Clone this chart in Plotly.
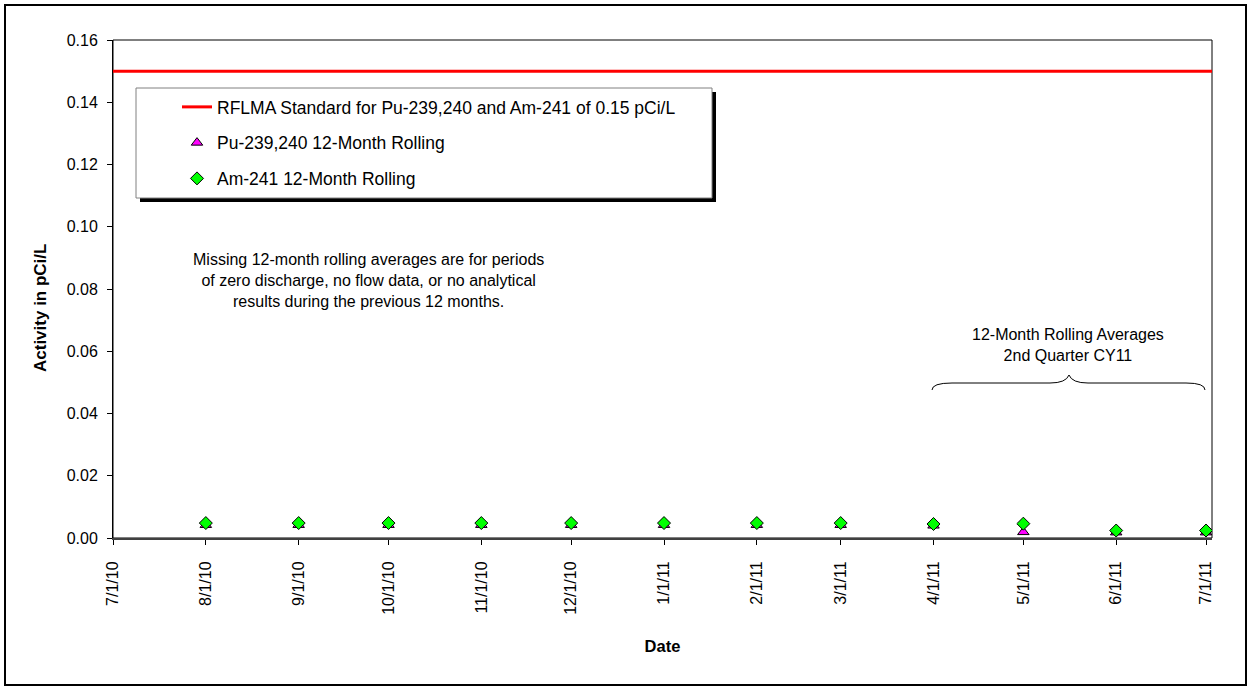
import plotly.graph_objects as go

# Datos
fechas = ["2010-08-01", "2010-09-01", "2010-10-01", "2010-11-01", "2010-12-01", "2011-01-01",
          "2011-02-01", "2011-03-01", "2011-04-01", "2011-05-01", "2011-06-01", "2011-07-01"]
pu_rolling = [0.0042, 0.0042, 0.0042, 0.0042, 0.0042, 0.0042,
              0.0042, 0.0042, 0.0040, 0.0019, 0.0018, 0.0018]
am_rolling = [0.0048, 0.0048, 0.0048, 0.0048, 0.0048, 0.0048,
              0.0048, 0.0048, 0.0045, 0.0046, 0.0024, 0.0024]
estandar = 0.15
rango_x = ["2010-07-01", "2011-07-03"]
ticks_x = ["2010-07-01", "2010-08-01", "2010-09-01", "2010-10-01", "2010-11-01", "2010-12-01",
           "2011-01-01", "2011-02-01", "2011-03-01", "2011-04-01", "2011-05-01", "2011-06-01",
           "2011-07-01"]
ticks_x_txt = ["7/1/10", "8/1/10", "9/1/10", "10/1/10", "11/1/10", "12/1/10", "1/1/11",
               "2/1/11", "3/1/11", "4/1/11", "5/1/11", "6/1/11", "7/1/11"]

FUENTE = "Liberation Sans, Arial, sans-serif"

# Geometría del área de trazado (px)
L, R, T, B = 113, 1212, 40, 538
W, H = 1252, 690


def px(x):
    return (x - L) / (R - L)


def py(y):
    return (B - y) / (B - T)


fig = go.Figure()

fig.add_trace(go.Scatter(
    x=rango_x, y=[estandar, estandar], mode="lines",
    name="RFLMA Standard for Pu-239,240 and Am-241 of 0.15 pCi/L",
    line=dict(color="#FF0000", width=3), legendgroup="a",
))
fig.add_trace(go.Scatter(
    x=fechas, y=pu_rolling, mode="markers", name="Pu-239,240 12-Month Rolling",
    marker=dict(symbol="triangle-up", size=10, color="#FF00FF", line=dict(color="black", width=1)),
    legendgroup="b",
))
fig.add_trace(go.Scatter(
    x=fechas, y=am_rolling, mode="markers", name="Am-241 12-Month Rolling",
    marker=dict(symbol="diamond", size=10, color="#00FF00", line=dict(color="black", width=1)),
    legendgroup="c",
))

# Llave sobre el 2º trimestre
llave = [(932, 390), (932, 383), (952, 383), (1050, 383), (1066, 383), (1069, 375),
         (1072, 383), (1088, 383), (1186, 383), (1205, 383), (1205, 390)]
p = [(px(a), py(b)) for a, b in llave]
camino = (f"M {p[0][0]},{p[0][1]} Q {p[1][0]},{p[1][1]} {p[2][0]},{p[2][1]} "
          f"L {p[3][0]},{p[3][1]} Q {p[4][0]},{p[4][1]} {p[5][0]},{p[5][1]} "
          f"Q {p[6][0]},{p[6][1]} {p[7][0]},{p[7][1]} L {p[8][0]},{p[8][1]} "
          f"Q {p[9][0]},{p[9][1]} {p[10][0]},{p[10][1]}")

shapes = [
    # marco exterior
    dict(type="rect", xref="paper", yref="paper", x0=px(5), x1=px(1246), y0=py(685), y1=py(5),
         line=dict(color="black", width=2), layer="below"),
    # marco del área de trazado
    dict(type="rect", xref="paper", yref="paper", x0=0, x1=1, y0=0, y1=1,
         line=dict(color="black", width=1), layer="below"),
    # sombra y caja de la leyenda
    dict(type="rect", xref="paper", yref="paper", x0=px(140), x1=px(716), y0=py(202), y1=py(92),
         line=dict(width=0), fillcolor="black", layer="above"),
    dict(type="rect", xref="paper", yref="paper", x0=px(136), x1=px(712), y0=py(198), y1=py(88),
         line=dict(color="#808080", width=1), fillcolor="white", layer="above"),
    dict(type="path", xref="paper", yref="paper", path=camino, line=dict(color="black", width=1)),
]

fig.update_layout(
    width=W, height=H,
    margin=dict(l=L, r=W - R, t=T, b=H - B),
    plot_bgcolor="white", paper_bgcolor="white",
    font=dict(family=FUENTE, size=16, color="black"),
    showlegend=True,
    legend=dict(
        x=px(177), y=py(89), xanchor="left", yanchor="top",
        bgcolor="rgba(0,0,0,0)", borderwidth=0,
        traceorder="grouped", tracegroupgap=10,
        font=dict(family=FUENTE, size=17.5),
    ),
    shapes=shapes,
    annotations=[
        dict(xref="paper", yref="paper", x=px(368), y=py(280), showarrow=False,
             xanchor="center", yanchor="middle",
             text="Missing 12-month rolling averages are for periods<br>"
                  "of zero discharge, no flow data, or no analytical<br>"
                  "results during the previous 12 months.",
             font=dict(family=FUENTE, size=16), align="center"),
        dict(xref="paper", yref="paper", x=px(1068), y=py(345), showarrow=False,
             xanchor="center", yanchor="middle",
             text="12-Month Rolling Averages<br>2nd Quarter CY11",
             font=dict(family=FUENTE, size=16), align="center"),
        # título del eje Y
        dict(xref="paper", yref="paper", x=px(40), y=py(308), showarrow=False,
             xanchor="center", yanchor="middle", textangle=-90,
             text="<b>Activity in pCi/L</b>", font=dict(family=FUENTE, size=17)),
    ],
)

fig.update_xaxes(
    type="date", range=rango_x,
    tickmode="array", tickvals=ticks_x, ticktext=ticks_x_txt, tickangle=-90,
    ticks="outside", ticklen=5, tickcolor="black", ticklabelstandoff=10,
    showline=True, linecolor="#404040", linewidth=2,
    showgrid=False, zeroline=False,
    title=dict(text="<b>Date</b>", font=dict(family=FUENTE, size=16.5), standoff=27),
)
fig.update_yaxes(
    range=[0, 0.16], tickmode="linear", tick0=0, dtick=0.02, tickformat=".2f",
    ticks="outside", ticklen=5, tickcolor="black", ticklabelstandoff=6,
    showline=True, linecolor="black", linewidth=1,
    showgrid=False, zeroline=False,
)

fig.write_html("out.html", config={"displayModeBar": False},
               post_script="document.body.style.margin = '0';")
